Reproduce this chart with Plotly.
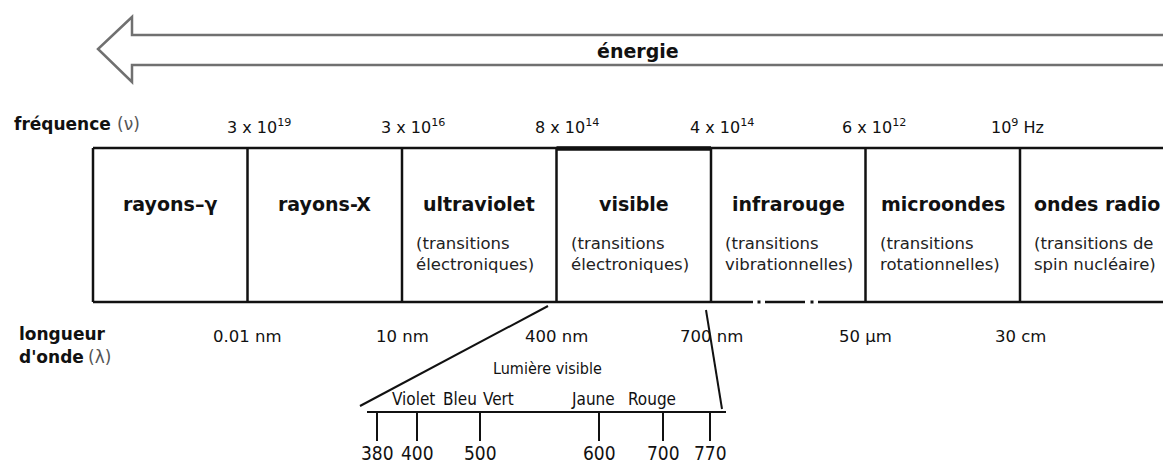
import plotly.graph_objects as go

# ---------------- data ----------------
regions = ["rayons–γ", "rayons-X", "ultraviolet", "visible", "infrarouge", "microondes", "ondes radio"]
transitions = ["", "", "(transitions<br>électroniques)", "(transitions<br>électroniques)",
               "(transitions<br>vibrationnelles)", "(transitions<br>rotationnelles)",
               "(transitions de<br>spin nucléaire)"]
freq_labels = ["3 x 10<sup>19</sup>", "3 x 10<sup>16</sup>", "8 x 10<sup>14</sup>",
               "4 x 10<sup>14</sup>", "6 x 10<sup>12</sup>", "10<sup>9</sup> Hz"]
wavelength_labels = ["0.01 nm", "10 nm", "400 nm", "700 nm", "50 µm", "30 cm"]
visible_ticks = [380, 400, 500, 600, 700, 770]
visible_colors = ["Violet", "Bleu", "Vert", "Jaune", "Rouge"]

# ---------------- layout (positions / styles) ----------------
W, H = 1163, 464
BOX_LEFT, CELL_W, BOX_TOP, BOX_BOTTOM = 93, 154.5, 148, 302
bounds = [BOX_LEFT + i * CELL_W for i in range(len(regions) + 1)]
freq_offsets = [11, 11, 10, 11, 8, -3]
ruler_x = [377, 417, 480, 599, 663, 710]
color_x = [413, 460, 498, 593, 652]
RULER_Y, TICK_LEN = 412, 29

SANS = "DejaVu Sans"
INK = "#111111"

fig = go.Figure()
fig.add_trace(go.Scatter(x=[0, W], y=[0, H], mode="markers", marker=dict(opacity=0),
                         hoverinfo="skip", showlegend=False))

shapes = []
ann = []

def line(x0, y0, x1, y1, w=2, c=INK):
    shapes.append(dict(type="line", x0=x0, y0=y0, x1=x1, y1=y1, xref="x", yref="y",
                       line=dict(color=c, width=w)))

def text(x, y, t, size, xa="center", color=INK, align="center", weight="normal"):
    ann.append(dict(x=x, y=y, text=t, xref="x", yref="y", showarrow=False,
                    xanchor=xa, yanchor="middle", align=align,
                    font=dict(family=SANS, size=size, color=color, weight=weight)))

def narrow(t):
    return "<span style='font-stretch:condensed'>" + t + "</span>"

# energy arrow
shapes.append(dict(type="path", xref="x", yref="y",
                   path="M 1175,35 L 132,35 L 132,17 L 98,49 L 132,82 L 132,65 L 1175,65",
                   line=dict(color="#707070", width=2.5)))
text(638, 51, "énergie", 19, weight="bold")

# frequency row
text(12, 124, "fréquence", 17, xa="left", weight="bold")
text(115, 124, "(ν)", 17, xa="left", color="#555")
for i, lab in enumerate(freq_labels):
    text(bounds[i + 1] + freq_offsets[i], 126, lab, 16)

# spectrum box
line(BOX_LEFT, BOX_TOP, W + 5, BOX_TOP, 2.5)
line(bounds[3], BOX_TOP + 0.5, bounds[4], BOX_TOP + 0.5, 4.5)
for x0, x1 in [(BOX_LEFT, 753), (765, 805), (818, W + 5)]:
    line(x0, BOX_BOTTOM, x1, BOX_BOTTOM, 2.5)
for xd in [759, 812]:
    line(xd - 1.5, BOX_BOTTOM, xd + 1.5, BOX_BOTTOM, 3)
for b in bounds[:-1]:
    line(b, BOX_TOP, b, BOX_BOTTOM, 2.5)

for i, name in enumerate(regions):
    cx = (bounds[i] + bounds[i + 1]) / 2
    text(cx, 204, name, 19, weight="bold")
    if transitions[i]:
        text(bounds[i] + 12, 254, transitions[i], 16.5, xa="left", color="#222", align="left")

# wavelength row
text(17, 334, "longueur", 17, xa="left", weight="bold")
text(17, 357, "d'onde", 17, xa="left", weight="bold")
text(86, 357, "(λ)", 17, xa="left", color="#555")
for i, lab in enumerate(wavelength_labels):
    text(bounds[i + 1], 336, lab, 16.5)

# visible-light zoom
line(548, 306, 360, 406, 2)
line(706, 310, 722, 409, 2)
line(367, RULER_Y, 726, RULER_Y, 2)
for v, xp in zip(visible_ticks, ruler_x):
    line(xp, RULER_Y, xp, RULER_Y + TICK_LEN, 2)
    text(xp, 453, narrow(str(v)), 19)
text(547, 368, narrow("Lumière visible"), 16)
for name, xp in zip(visible_colors, color_x):
    text(xp, 399, narrow(name), 17)

fig.update_layout(
    width=W, height=H, margin=dict(l=0, r=0, t=0, b=0),
    paper_bgcolor="white", plot_bgcolor="white",
    xaxis=dict(range=[0, W], visible=False, fixedrange=True),
    yaxis=dict(range=[H, 0], visible=False, fixedrange=True),
    shapes=shapes, annotations=ann, showlegend=False,
)
fig.write_html("out.html", config={"displayModeBar": False},
               post_script="document.body.style.margin='0';")
